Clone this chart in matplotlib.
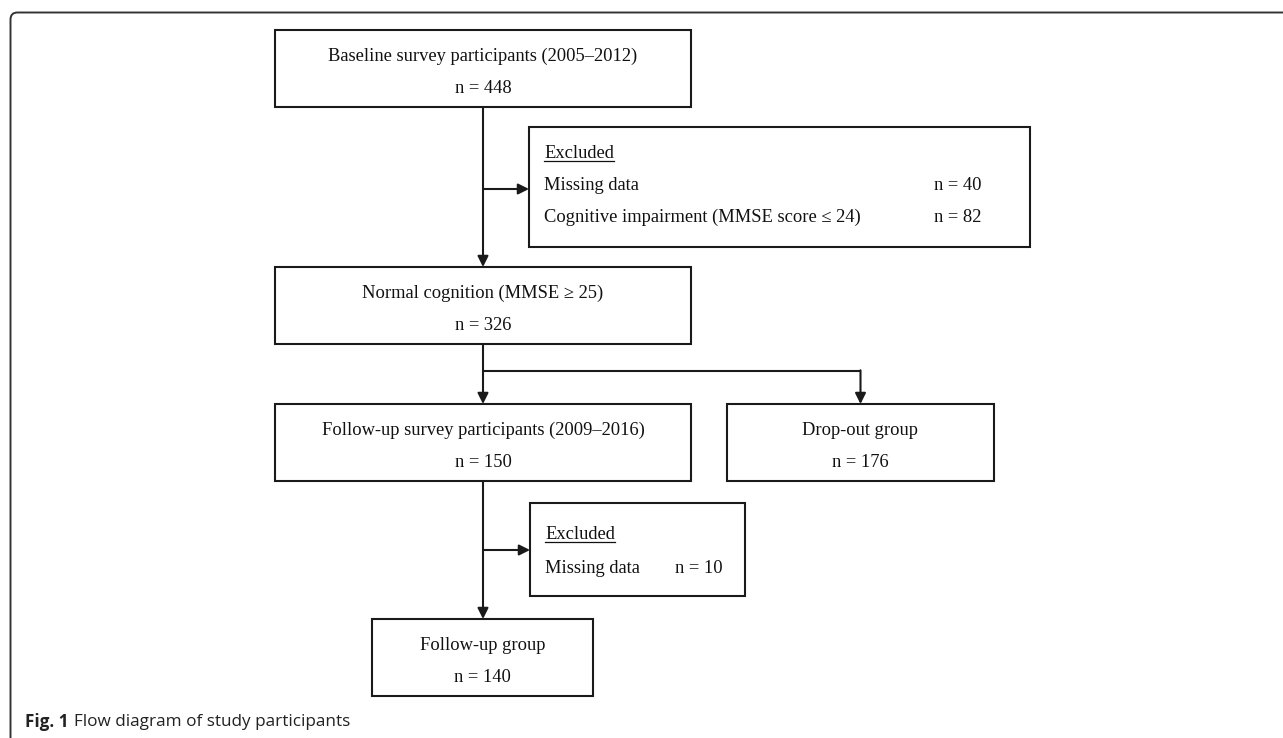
import matplotlib.pyplot as plt
from matplotlib.patches import Rectangle, FancyBboxPatch

# counts shown in the flow diagram
stage_labels = ['Baseline survey participants (2005\u20132012)',
                'Normal cognition (MMSE \u2265 25)',
                'Follow-up survey participants (2009\u20132016)',
                'Drop-out group',
                'Follow-up group']
stage_n = [448, 326, 150, 176, 140]
excl1_reasons = ['Missing data', 'Cognitive impairment (MMSE score \u2264 24)']
excl1_n = [40, 82]
excl2_reasons = ['Missing data']
excl2_n = [10]
caption_bold = 'Fig. 1'
caption_text = 'Flow diagram of study participants'

W, H = 1283, 738
LINE = '#1a1a1a'
SERIF = 'Liberation Serif'
FS = 13.3

# box layout in pixels: left, top, right, bottom
stage_boxes = [(275, 30, 691, 107),
               (275, 267, 691, 344),
               (275, 404, 691, 481),
               (727, 404, 994, 481),
               (372, 619, 593, 696)]
excl1_box = (529, 127, 1030, 247)
excl2_box = (530, 503, 745, 596)


def draw_box(ax, box):
    x0, y0, x1, y1 = box
    ax.add_patch(Rectangle((x0, y0), x1 - x0, y1 - y0, fill=False,
                           edgecolor=LINE, lw=1.5))


def draw_stage(ax, box, label, n):
    draw_box(ax, box)
    x0, y0, x1, y1 = box
    cx = (x0 + x1) / 2
    ax.text(cx, y0 + 31, label, ha='center', va='baseline',
            family=SERIF, fontsize=FS, color='#111111')
    ax.text(cx, y0 + 63, 'n = {0}'.format(n), ha='center', va='baseline',
            family=SERIF, fontsize=FS, color='#111111')


def draw_excluded(ax, fig, box, rows_y, reasons, counts, n_x):
    draw_box(ax, box)
    x0 = box[0] + 15
    t = ax.text(x0, rows_y[0], 'Excluded', ha='left', va='baseline',
                family=SERIF, fontsize=FS, color='#111111')
    fig.canvas.draw()
    bb = t.get_window_extent()
    ax.plot([x0, x0 + bb.width], [rows_y[0] + 3, rows_y[0] + 3],
            color='#111111', lw=0.9)
    for y, reason, n in zip(rows_y[1:], reasons, counts):
        ax.text(x0, y, reason, ha='left', va='baseline',
                family=SERIF, fontsize=FS, color='#111111')
        ax.text(n_x, y, 'n = {0}'.format(n), ha='left', va='baseline',
                family=SERIF, fontsize=FS, color='#111111')


def arrow(ax, start, end):
    ax.annotate('', xy=end, xytext=start,
                arrowprops=dict(arrowstyle='-|>', color=LINE, lw=1.5,
                                mutation_scale=16, shrinkA=0, shrinkB=0))


def line(ax, xs, ys):
    ax.plot(xs, ys, color=LINE, lw=1.5, solid_capstyle='butt')


def main():
    fig = plt.figure(figsize=(W / 100, H / 100), dpi=100)
    ax = fig.add_axes([0, 0, 1, 1])
    ax.set_xlim(0, W)
    ax.set_ylim(H, 0)
    ax.axis('off')

    # outer frame (open to the right and bottom)
    ax.add_patch(FancyBboxPatch((10.5, 12.5), W + 300, H + 300,
                                boxstyle='round,pad=0,rounding_size=7',
                                fill=False, edgecolor='#333333', lw=1.4))

    for box, label, n in zip(stage_boxes, stage_labels, stage_n):
        draw_stage(ax, box, label, n)

    draw_excluded(ax, fig, excl1_box, [158, 190, 222], excl1_reasons,
                  excl1_n, 934)
    draw_excluded(ax, fig, excl2_box, [539, 573], excl2_reasons,
                  excl2_n, 675)

    cx = 483
    # baseline -> normal, with exclusion branch
    arrow(ax, (cx, 107), (cx, 267))
    arrow(ax, (cx, 189), (excl1_box[0], 189))
    # normal -> follow-up / drop-out
    arrow(ax, (cx, 344), (cx, 404))
    drop_x = (stage_boxes[3][0] + stage_boxes[3][2]) / 2
    line(ax, [cx, drop_x], [371, 371])
    arrow(ax, (drop_x, 370.3), (drop_x, 404))
    # follow-up -> final group
    arrow(ax, (cx, 481), (cx, 619))
    arrow(ax, (cx, 550), (excl2_box[0], 550))

    # caption
    t = ax.text(25, 722, caption_bold, ha='left', va='center',
                family='Open Sans', fontweight='bold', fontsize=12.3,
                color='#222222')
    fig.canvas.draw()
    bb = t.get_window_extent()
    ax.text(25 + bb.width + 5, 722, caption_text, ha='left', va='center',
            family='Open Sans', fontsize=12.3, color='#222222')

    fig.savefig('out.png', dpi=100)


if __name__ == '__main__':
    main()
